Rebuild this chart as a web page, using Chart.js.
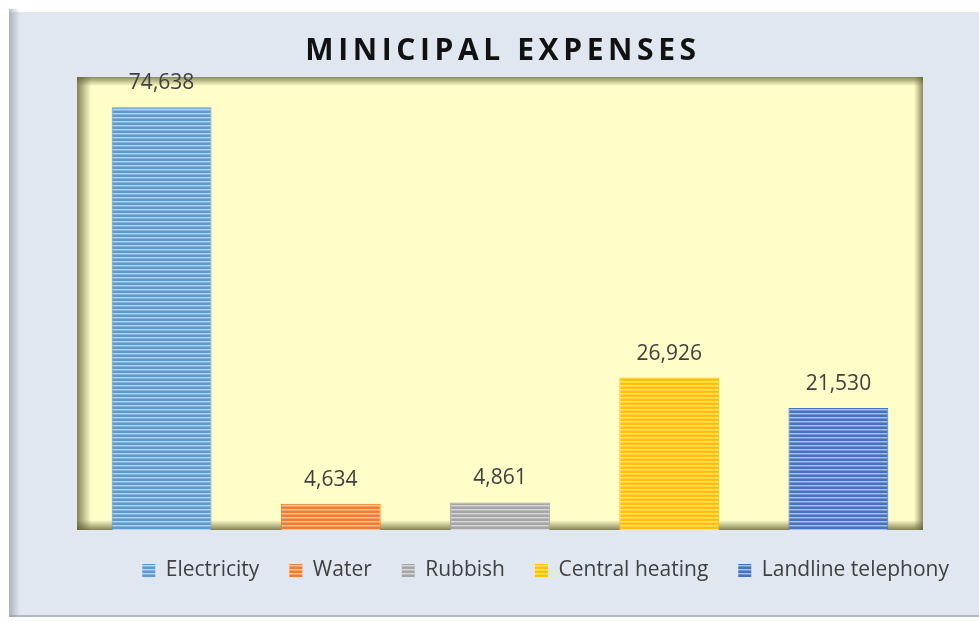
<!DOCTYPE html>
<html>
<head>
<meta charset="utf-8">
<script src="https://cdn.jsdelivr.net/npm/chart.js@4/dist/chart.umd.min.js"></script>
<style>
  html, body { margin: 0; padding: 0; background: #fff; }
  #wrap { width: 979px; height: 621px; }
</style>
</head>
<body>
<div id="wrap"><canvas id="chart" width="979" height="621"></canvas></div>
<script>
// Data
const titleText = 'MINICIPAL EXPENSES';
const categories = ['Electricity', 'Water', 'Rubbish', 'Central heating', 'Landline telephony'];
const expenses = [74638, 4634, 4861, 26926, 21530];
const barColors = ['#5B9BD5', '#ED7D31', '#A5A5A5', '#FFC000', '#4472C4'];
const axisMax = 80000;

// Striped fill like the Excel pattern
function mixWhite(hex, amt) {
  const n = parseInt(hex.slice(1), 16);
  const r = (n >> 16) & 255, g = (n >> 8) & 255, b = n & 255;
  const m = c => Math.round(c + (255 - c) * amt);
  return `rgb(${m(r)},${m(g)},${m(b)})`;
}
function makeStripes(color) {
  const c = document.createElement('canvas');
  c.width = 4; c.height = 4;
  const x = c.getContext('2d');
  x.fillStyle = color;
  x.fillRect(0, 0, 4, 4);
  x.fillStyle = mixWhite(color, 0.55);
  x.fillRect(0, 1, 4, 1);
  x.fillStyle = mixWhite(color, 0.25);
  x.fillRect(0, 2, 4, 1);
  return x.createPattern(c, 'repeat');
}
const patterns = barColors.map(makeStripes);

// Background, frame and beveled plot area
const backdrop = {
  id: 'backdrop',
  beforeDraw(chart) {
    const { ctx, width, height, chartArea: a } = chart;
    ctx.save();
    ctx.fillStyle = '#ffffff';
    ctx.fillRect(0, 0, width, height);
    ctx.fillStyle = '#E1E7F0';
    ctx.fillRect(9, 9, width - 9, height - 13);
    // frame bevel
    ctx.fillStyle = '#ffffff';
    ctx.fillRect(9, 9, width - 9, 3);
    let g = ctx.createLinearGradient(9, 0, 20, 0);
    g.addColorStop(0, 'rgba(120,125,135,0.5)');
    g.addColorStop(1, 'rgba(120,125,135,0)');
    ctx.fillStyle = g;
    ctx.fillRect(9, 9, 11, height - 13);
    ctx.fillStyle = 'rgba(150,155,160,0.6)';
    ctx.fillRect(9, height - 6, width - 9, 2);

    // plot area
    const w = a.right - a.left, h = a.bottom - a.top;
    ctx.fillStyle = '#FFFEC8';
    ctx.fillRect(a.left, a.top, w, h);
    const shade = 'rgba(90,90,50,';
    g = ctx.createLinearGradient(a.left, 0, a.left + 14, 0);
    g.addColorStop(0, shade + '0.75)'); g.addColorStop(1, shade + '0)');
    ctx.fillStyle = g; ctx.fillRect(a.left, a.top, 14, h);
    g = ctx.createLinearGradient(a.right, 0, a.right - 9, 0);
    g.addColorStop(0, shade + '0.7)'); g.addColorStop(1, shade + '0)');
    ctx.fillStyle = g; ctx.fillRect(a.right - 9, a.top, 9, h);
    g = ctx.createLinearGradient(0, a.top, 0, a.top + 9);
    g.addColorStop(0, shade + '0.7)'); g.addColorStop(1, shade + '0)');
    ctx.fillStyle = g; ctx.fillRect(a.left, a.top, w, 9);
    g = ctx.createLinearGradient(0, a.bottom, 0, a.bottom - 10);
    g.addColorStop(0, shade + '0.75)'); g.addColorStop(1, shade + '0)');
    ctx.fillStyle = g; ctx.fillRect(a.left, a.bottom - 10, w, 10);
    ctx.restore();
  },
  afterDraw(chart) {
    const { ctx } = chart;
    ctx.save();
    ctx.font = 'bold 30px "Open Sans"';
    ctx.letterSpacing = '4.6px';
    ctx.fillStyle = '#111111';
    ctx.textAlign = 'center';
    ctx.textBaseline = 'middle';
    ctx.fillText(titleText, 503, 51);
    ctx.restore();
  }
};

// Value labels above bars
const valueLabels = {
  id: 'valueLabels',
  afterDatasetsDraw(chart) {
    const { ctx } = chart;
    const meta = chart.getDatasetMeta(0);
    ctx.save();
    ctx.font = '21px "Open Sans"';
    ctx.fillStyle = '#404040';
    ctx.textAlign = 'center';
    ctx.textBaseline = 'middle';
    meta.data.forEach((bar, i) => {
      ctx.fillText(expenses[i].toLocaleString('en-US'), bar.x, bar.y - 24);
    });
    ctx.restore();
  }
};

new Chart(document.getElementById('chart').getContext('2d'), {
  type: 'bar',
  data: {
    labels: categories,
    datasets: [{
      label: 'Expenses',
      data: expenses,
      backgroundColor: patterns,
      borderColor: barColors,
      borderWidth: 1,
      categoryPercentage: 1,
      barPercentage: 0.59
    }]
  },
  options: {
    responsive: false,
    animation: false,
    layout: { padding: { left: 77, right: 0, top: 77, bottom: 30 } },
    scales: {
      x: { display: false },
      y: {
        position: 'right',
        min: 0,
        max: axisMax,
        ticks: { display: false },
        grid: { display: false },
        border: { display: false },
        afterFit: s => { s.width = 56; }
      }
    },
    plugins: {
      tooltip: { enabled: false },
      title: { display: false },
      legend: {
        position: 'bottom',
        align: 'end',
        labels: {
          font: { family: '"Open Sans"', size: 21 },
          color: '#404040',
          boxWidth: 13,
          boxHeight: 13,
          padding: 30,
          generateLabels: () => categories.map((c, i) => ({
            text: c,
            fillStyle: patterns[i],
            strokeStyle: barColors[i],
            lineWidth: 0,
            fontColor: '#404040',
            index: i
          }))
        }
      }
    }
  },
  plugins: [backdrop, valueLabels]
});
</script>
</body>
</html>
